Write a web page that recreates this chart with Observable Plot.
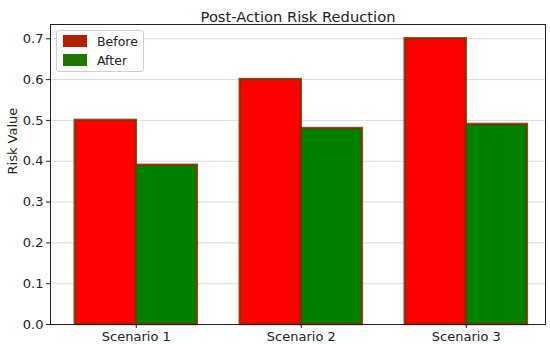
<!DOCTYPE html>
<html>
<head>
<meta charset="utf-8">
<script src="https://cdn.jsdelivr.net/npm/d3@7"></script>
<script src="https://cdn.jsdelivr.net/npm/@observablehq/plot@0.6"></script>
<style>
  body { margin: 0; background: #fff; font-family: "DejaVu Sans", sans-serif; }
  #wrap { position: relative; width: 550px; height: 348px; }
  #legend { position: absolute; left: 56px; top: 30px; width: 86px; height: 40px;
    border: 1px solid #d0d0d0; border-radius: 3px; background: rgba(255,255,255,0.85);
    font-size: 12.5px; color: #222; }
  .item { position: absolute; left: 6px; height: 14px; display: flex; align-items: center; }
  .sw { width: 24px; height: 12px; margin-right: 10px; }
</style>
</head>
<body>
<div id="wrap"></div>
<script>
const categories = ["Scenario 1", "Scenario 2", "Scenario 3"];
const before = [0.50, 0.60, 0.70];
const after = [0.39, 0.48, 0.49];
const seriesNames = ["Before", "After"];
const seriesColors = ["#ff0000", "#008000"];
const legendColors = ["#b42000", "#1e7800"];
const yTicks = [0, 0.1, 0.2, 0.3, 0.4, 0.5, 0.6, 0.7];
const barWidth = 0.37;

const rows = [];
categories.forEach((c, i) => {
  rows.push({i, series: "Before", value: before[i], x1: i - barWidth, x2: i});
  rows.push({i, series: "After", value: after[i], x1: i, x2: i + barWidth});
});

const chart = Plot.plot({
  width: 550,
  height: 348,
  marginLeft: 50,
  marginRight: 5,
  marginTop: 24,
  marginBottom: 24,
  style: {fontFamily: "DejaVu Sans, sans-serif", fontSize: "13px", color: "#222", background: "#fff"},
  x: {domain: [-0.52, 2.48]},
  y: {domain: [0, 0.735]},
  color: {domain: seriesNames, range: seriesColors},
  marks: [
    Plot.ruleY(yTicks, {stroke: "#dcdcdc", strokeWidth: 1}),
    Plot.rectY(rows, {x1: "x1", x2: "x2", y1: 0, y2: "value", fill: "series",
      stroke: "#7a3000", strokeWidth: 2.5, strokeOpacity: 0.85, inset: 0}),
    Plot.frame({stroke: "#222", strokeWidth: 1}),
    Plot.axisY({ticks: yTicks, tickFormat: d3.format(".1f"), tickSize: 4, tickPadding: 3, label: null, fontSize: 13}),
    Plot.axisX({ticks: [0, 1, 2], tickFormat: i => categories[i], tickSize: 4, tickPadding: 3, label: null, fontSize: 13}),
    Plot.text(["Risk Value"], {frameAnchor: "left", dx: -38, rotate: -90, text: d => d, fontSize: 13, fill: "#222"}),
    Plot.text(["Post-Action Risk Reduction"], {frameAnchor: "top", dy: -13, text: d => d, fontSize: 14.7, fill: "#222"})
  ]
});

const wrap = document.getElementById("wrap");
wrap.appendChild(chart);

const legend = document.createElement("div");
legend.id = "legend";
seriesNames.forEach((name, k) => {
  const item = document.createElement("div");
  item.className = "item";
  item.style.top = (k === 0 ? 3 : 22) + "px";
  const sw = document.createElement("span");
  sw.className = "sw";
  sw.style.background = legendColors[k];
  const t = document.createElement("span");
  t.textContent = name;
  item.appendChild(sw);
  item.appendChild(t);
  legend.appendChild(item);
});
wrap.appendChild(legend);
</script>
</body>
</html>
